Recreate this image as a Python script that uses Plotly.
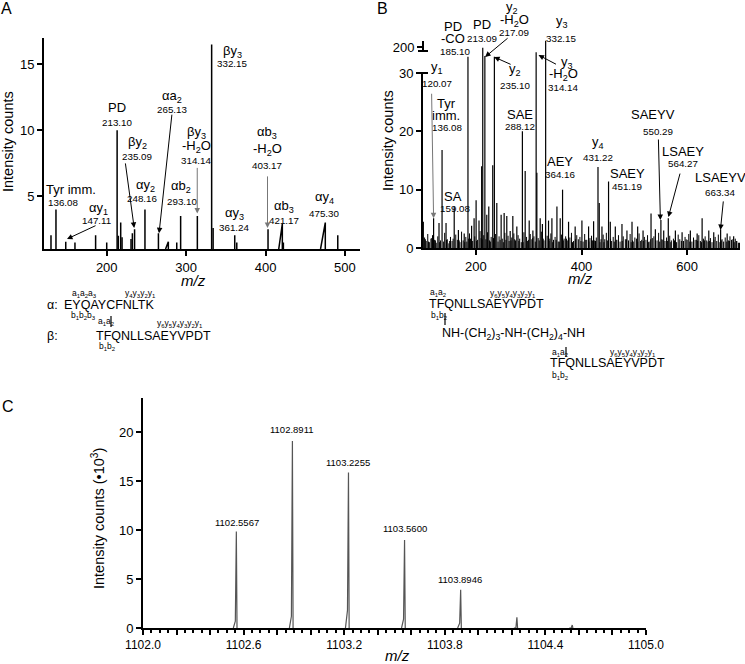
import plotly.graph_objects as go

W, H = 745, 664
FONT = "Liberation Sans, Arial, Helvetica, sans-serif"

# ---------------- Panel A data ----------------
A_mz = [129.8, 136.08, 148.4, 160, 186, 200, 213.10, 214.6, 217.6, 219.3, 230.6, 232.3, 235.09,
        248.16, 265.13, 277.6, 288.2, 293.10, 314.14, 332.15, 334, 361.24, 363.8, 403.17,
        421.17, 422.5, 475.30, 491]
A_int = [2.05, 4.0, 1.55, 1.5, 2.05, 1.5, 10.0, 2.0, 3.0, 1.9, 1.75, 2.2, 2.5,
         4.0, 2.2, 1.55, 1.5, 3.5, 3.5, 16.5, 2.6, 2.05, 1.5, 2.5,
         2.9, 1.5, 3.0, 2.05]
A_rise = [0, 0, 0, 0, 0, 0, 0, 0, 0, 0, 0, 0, 0,
          0, 0, 3.5, 0, 0, 0, 0, 0, 0, 0, 0,
          4.5, 0, 6, 0]

# ---------------- Panel B data ----------------
B_mz = [100.6, 120.07, 130.3, 136.08, 143.6, 159.08, 167, 178, 185.10, 192, 196.7, 200.5, 206,
        211, 213.09, 217.09, 220.7, 224.5, 232, 235.10, 239.7, 247.9, 253.6, 258.6, 265, 270,
        277.6, 288.12, 293.4, 301, 308, 314.14, 315.5, 321.8, 326, 332.15, 337.6, 344, 353.5,
        359.7, 364.16, 375.5, 388, 400.8, 413.4, 422.9, 431.22, 433.6, 438.7, 451.19, 454.5,
        464, 476.6, 486, 495.6, 506.3, 516.5, 531.6, 539.8, 550.29, 555.6, 564.27, 577.7,
        590.4, 606, 618.9, 628.3, 640.9, 650.3, 663.34, 675.7, 688]
B_int = [4.5, 5.1, 4.3, 16.8, 4.3, 7.1, 3.1, 2.5, 136.6, 3.8, 5.1, 8.2, 4.7,
         14.0, 195.5, 141.0, 5.7, 7.1, 14.2, 136.6, 7.7, 5.7, 6.0, 5.5, 2.9, 5.5,
         3.7, 20.0, 13.2, 4.7, 3.0, 165.0, 12.9, 5.1, 4.1, 241.0, 4.7, 5.1, 7.1,
         5.1, 10.0, 4.5, 3.7, 4.7, 3.7, 4.6, 13.9, 7.7, 3.7, 11.4, 4.5,
         3.7, 4.1, 3.0, 4.5, 3.7, 3.0, 5.9, 3.2, 4.8, 3.0, 5.1, 3.0,
         2.7, 3.0, 2.5, 5.1, 3.0, 2.7, 3.2, 2.5, 2.0]

B_noise_mz = [103, 106, 109, 112, 115, 118, 122, 125, 128, 133,
              139, 141, 146, 149, 152, 155, 162, 165, 170, 173,
              176, 181, 183, 188, 190, 194, 198, 203, 208, 210,
              215, 219, 222, 226, 229, 237, 242, 244, 250, 255,
              257, 261, 263, 268, 272, 275, 280, 283, 286, 291,
              296, 298, 303, 306, 310, 318, 324, 329, 335, 340,
              342, 347, 350, 356, 362, 367, 370, 373, 378, 381,
              385, 391, 394, 397, 403, 406, 410, 416, 419, 425,
              428, 435, 441, 444, 447, 457, 460, 467, 470, 473,
              479, 483, 489, 492, 498, 501, 504, 509, 512, 519,
              522, 525, 528, 534, 537, 543, 546, 552, 558, 561,
              567, 570, 574, 580, 583, 586, 593, 596, 600, 603,
              609, 612, 615, 622, 625, 631, 634, 637, 644, 647,
              653, 656, 659, 666, 669, 672, 678, 681, 684, 691,
              694, 697, 104.5, 110.5, 116.5, 123.5, 131, 144.5, 150.5, 157,
              168.5, 179, 186.5, 201.5, 212, 227.5, 233.5, 246, 252, 266.5,
              273.5, 281.5, 289.5, 299.5, 307.5, 312.5, 320, 327.5, 338.5, 345.5,
              352, 358, 365.5, 371.5, 383, 388.5, 399, 408, 414, 421,
              426.5, 437, 442.5, 449, 455, 462, 465.5, 477, 485, 494,
              496.5, 506.5, 514, 517, 526.5, 531, 540, 548, 554, 563,
              569, 576, 589, 598, 605, 618, 620, 627, 633, 639.5,
              642, 650.5, 662, 664.5, 675, 680, 686.5, 689, 693, 699]
B_noise_int = [1.8, 1.2, 2.4, 1.0, 1.6, 2.2, 1.4, 0.9, 2.0, 1.3,
               1.1, 2.6, 1.5, 0.8, 1.9, 1.2, 2.3, 1.4, 1.0, 2.8,
               1.3, 1.9, 1.1, 2.5, 1.6, 1.2, 2.0, 1.4, 2.9, 1.7,
               2.2, 1.5, 2.7, 1.3, 1.9, 2.4, 1.1, 2.0, 1.6, 2.6,
               1.4, 2.1, 1.2, 1.8, 2.5, 1.3, 2.2, 1.6, 1.0, 2.7,
               1.9, 1.2, 2.4, 1.5, 2.0, 1.7, 2.8, 1.3, 2.1, 1.6,
               2.5, 1.4, 1.9, 1.1, 2.3, 1.6, 2.0, 1.3, 1.8, 2.6,
               1.2, 2.2, 1.5, 1.9, 1.1, 2.4, 1.4, 1.7, 2.1, 1.3,
               1.8, 1.0, 2.3, 1.5, 2.6, 1.2, 1.9, 1.4, 2.2, 1.1,
               2.0, 1.5, 1.3, 2.4, 1.1, 1.8, 1.6, 2.5, 1.2, 1.9,
               1.4, 2.2, 1.1, 1.7, 2.0, 1.3, 2.6, 1.5, 1.2, 1.8,
               2.1, 1.3, 1.6, 1.0, 2.3, 1.5, 1.2, 1.9, 1.4, 2.4,
               1.1, 1.8, 1.4, 2.2, 1.2, 1.6, 2.0, 1.3, 1.7, 1.0,
               1.9, 1.2, 2.3, 1.5, 1.1, 1.8, 1.3, 2.0, 1.4, 1.6,
               1.2, 0.9, 1.5, 1.1, 1.7, 1.3, 1.0, 1.4, 1.2, 1.6,
               1.3, 1.0, 1.6, 1.2, 1.5, 1.1, 1.7, 1.4, 1.0, 1.3,
               1.5, 1.2, 1.0, 1.4, 1.7, 1.1, 1.3, 1.6, 1.2, 1.0,
               1.4, 1.1, 1.3, 1.6, 1.0, 1.5, 1.2, 1.4, 1.1, 1.3,
               1.2, 1.5, 1.0, 1.3, 1.6, 1.1, 1.4, 1.2, 1.5, 1.0,
               1.3, 1.1, 1.4, 1.2, 1.0, 1.5, 1.3, 1.1, 1.4, 1.2,
               1.0, 1.3, 1.2, 1.5, 1.1, 1.4, 1.2, 1.0, 1.3, 1.1,
               1.2, 1.4, 1.0, 1.3, 1.1, 1.2, 1.5, 1.0, 1.2, 0.9]

# ---------------- Panel C data ----------------
C_mz = [1102.5567, 1102.8911, 1103.2255, 1103.5600, 1103.8946, 1104.23, 1104.56]
C_int = [9.85, 19.1, 15.9, 9.0, 3.9, 1.1, 0.3]
C_shoulder = [0.7, 1.2, 1.8, 0.9, 0.5, 0.0, 0.0]
C_labels = ["1102.5567", "1102.8911", "1103.2255", "1103.5600", "1103.8946"]
C_tick_text = ["1102.0", " ", " ", "1102.6", " ", " ", "1103.2", " ", " ", "1103.8", " ", " ",
               "1104.4", " ", " ", "1105.0"]
C_tick_vals = [1102.0, 1102.2, 1102.4, 1102.6, 1102.8, 1103.0, 1103.2, 1103.4, 1103.6, 1103.8,
               1104.0, 1104.2, 1104.4, 1104.6, 1104.8, 1105.0]


def P(x, y):
    return x / W, 1 - y / H


def sticks(mz, inten, base=0.0):
    xs, ys = [], []
    for m, h in zip(mz, inten):
        xs += [m, m, None]
        ys += [base, h, None]
    return xs, ys


fig = go.Figure()

# Panel A spectrum
ax_, ay_ = [], []
for m, h, r in zip(A_mz, A_int, A_rise):
    ax_ += [m - r, m, m, None]
    ay_ += [1, h, 1, None]
fig.add_trace(go.Scatter(x=ax_, y=ay_, mode="lines", line=dict(color="black", width=1.5),
                         xaxis="x", yaxis="y", hoverinfo="skip", showlegend=False))

# Panel B spectrum (lower and upper part of broken axis)
nx, ny = sticks(B_noise_mz, B_noise_int)
bx, by = sticks(B_mz, B_int)
for xa, ya in (("x2", "y2"), ("x3", "y3")):
    fig.add_trace(go.Scatter(x=nx, y=ny, mode="lines", line=dict(color="black", width=1),
                             xaxis=xa, yaxis=ya, hoverinfo="skip", showlegend=False))
    fig.add_trace(go.Scatter(x=bx, y=by, mode="lines", line=dict(color="black", width=1.2),
                             xaxis=xa, yaxis=ya, hoverinfo="skip", showlegend=False))

# Panel C spectrum
cx, cy = [], []
for m, h, s in zip(C_mz, C_int, C_shoulder):
    cx += [m - 0.018, m - 0.006, m, m + 0.004, None]
    cy += [0, s, h, 0, None]
fig.add_trace(go.Scatter(x=cx, y=cy, mode="lines", line=dict(color="#555555", width=1.2),
                         xaxis="x4", yaxis="y4", hoverinfo="skip", showlegend=False))

ann = []


def txt(x, y, t, size=12.5, anchor="center", color="black", angle=0):
    px_, py_ = P(x, y)
    ann.append(dict(x=px_, y=py_, xref="paper", yref="paper", text=t, showarrow=False,
                    xanchor=anchor, yanchor="middle", textangle=angle,
                    font=dict(family=FONT, size=size, color=color)))


def arrow(xref, yref, x, y, dx, dy, color="black"):
    ann.append(dict(x=x, y=y, xref=xref, yref=yref, text="", showarrow=True, ax=dx, ay=dy,
                    arrowhead=2, arrowsize=1.1, arrowwidth=1, arrowcolor=color, standoff=0))


NS, VS = 13, 9.8  # name size, value size

# Panel letters
txt(7, 9, "A", 16)
txt(382, 9, "B", 16)
txt(8, 406, "C", 16)

# Panel A labels
for name, nx_, ny_, val, vx, vy in [
    ("Tyr imm.", 71, 189, "136.08", 63, 202),
    ("αy<sub>1</sub>", 98, 209, "147.11", 97, 221),
    ("PD", 117, 107, "213.10", 117, 122),
    ("βy<sub>2</sub>", 137, 142, "235.09", 137, 156),
    ("αy<sub>2</sub>", 145, 186, "248.16", 142, 199),
    ("αa<sub>2</sub>", 172, 96, "265.13", 172, 109),
    ("αb<sub>2</sub>", 181, 187, "293.10", 182, 201),
    ("βy<sub>3</sub>", 232, 52, "332.15", 232, 64),
    ("αy<sub>3</sub>", 234, 213, "361.24", 234, 227),
    ("αb<sub>3</sub>", 284, 206, "421.17", 284, 220),
    ("αy<sub>4</sub>", 324, 198, "475.30", 324, 213),
]:
    txt(nx_, ny_, name, NS)
    txt(vx, vy, val, VS)
txt(196, 132, "βy<sub>3</sub>", NS)
txt(196, 147, "-H<sub>2</sub>O", NS)
txt(196, 160, "314.14", VS)
txt(267, 132, "αb<sub>3</sub>", NS)
txt(267, 149, "-H<sub>2</sub>O", NS)
txt(267, 165, "403.17", VS)

arrow("x", "y", 150, 1.76, 30, -14)
arrow("x", "y", 234.6, 2.6, -9, -66)
arrow("x", "y", 265.9, 2.2, 13, -120)
arrow("x", "y", 314.0, 3.7, 0, -47, "#777777")
arrow("x", "y", 402.5, 2.6, 0, -53, "#777777")

# Panel B labels
for name, nx_, ny_, val, vx, vy in [
    ("y<sub>1</sub>", 437, 67, "120.07", 437, 83),
    ("SA", 453, 196, "159.08", 455, 208),
    ("PD", 482, 24, "213.09", 482, 38),
    ("y<sub>2</sub>", 515, 70, "235.10", 515, 85),
    ("SAE", 520, 114, "288.12", 520, 127),
    ("y<sub>3</sub>", 562, 22, "332.15", 561, 38),
    ("AEY", 560, 161, "364.16", 560, 175),
    ("y<sub>4</sub>", 598, 142, "431.22", 598, 158),
    ("SAEY", 627, 173, "451.19", 627, 187),
    ("SAEYV", 653, 115, "550.29", 658, 131),
    ("LSAEY", 683, 152, "564.27", 683, 164),
    ("LSAEYV", 720, 177, "663.34", 720, 192),
]:
    txt(nx_, ny_, name, NS)
    txt(vx, vy, val, VS)
txt(446, 103, "Tyr", NS)
txt(446, 116, "imm.", NS)
txt(448, 128, "136.08", VS)
txt(453, 27, "PD", NS)
txt(453, 39, "-CO", NS)
txt(455, 52, "185.10", VS)
txt(512, 7, "y<sub>2</sub>", NS)
txt(514, 20, "-H<sub>2</sub>O", NS)
txt(514, 33, "217.09", VS)
txt(567, 62, "y<sub>3</sub>", NS)
txt(563, 75, "-H<sub>2</sub>O", NS)
txt(563, 88, "314.14", VS)

arrow("x2", "y2", 120.07, 5.1, -2, -126, "#777777")
arrow("x3", "y3", 217.5, 134.6, 24, -20)
arrow("x3", "y3", 234.6, 134.6, 18, 8)
arrow("x3", "y3", 318.6, 147.7, 19, 10)
arrow("x2", "y2", 549.3, 4.8, -2, -82)
arrow("x2", "y2", 564.5, 5.3, 12, -45)
arrow("x2", "y2", 663.0, 3.1, 3, -30)

# Panel C labels
for lab, (lx, ly) in zip(C_labels, [(237, 522), (292, 429), (348, 462), (405, 528), (460, 579)]):
    txt(lx, ly, lab, 9.5)

# Axis titles
txt(8, 142, "Intensity counts", 14.5, angle=-90)
txt(388, 140, "Intensity counts", 14.5, angle=-90)
txt(98, 519, "Intensity counts (•10<sup>3</sup>)", 14.5, angle=-90)
txt(194, 280, "<i>m/z</i>", 15)
txt(580, 278, "<i>m/z</i>", 15)
txt(397, 655, "<i>m/z</i>", 15)

# Sequence annotations, panel A
SQ, SM = 12.5, 8.5
txt(45, 305, "α:", SQ, "left")
txt(62, 305, "EYQAYCFNLTK", SQ, "left")
txt(70, 294, "a<sub>1</sub>a<sub>2</sub>a<sub>3</sub>", SM, "left")
txt(123, 294, "y<sub>4</sub>y<sub>3</sub>y<sub>2</sub>y<sub>1</sub>", SM, "left")
txt(69, 315, "b<sub>1</sub>b<sub>2</sub>b<sub>3</sub>", SM, "left")
txt(96, 321, "a<sub>1</sub>a<sub>2</sub>", SM, "left")
txt(45, 336, "β:", SQ, "left")
txt(94, 336, "TFQNLLSAEYVPDT", SQ, "left")
txt(155, 323, "y<sub>6</sub>y<sub>5</sub>y<sub>4</sub>y<sub>3</sub>y<sub>2</sub>y<sub>1</sub>", SM, "left")
txt(97, 346, "b<sub>1</sub>b<sub>2</sub>", SM, "left")

# Sequence annotations, panel B
txt(428, 293, "a<sub>1</sub>a<sub>2</sub>", SM, "left")
txt(488, 294, "y<sub>6</sub>y<sub>5</sub>y<sub>4</sub>y<sub>3</sub>y<sub>2</sub>y<sub>1</sub>", SM, "left")
txt(427, 304, "TFQNLLSAEYVPDT", SQ, "left")
txt(429, 315, "b<sub>1</sub>b<sub>2</sub>", SM, "left")
txt(440, 334, "NH-(CH<sub>2</sub>)<sub>3</sub>-NH-(CH<sub>2</sub>)<sub>4</sub>-NH", SQ, "left")
txt(550, 352, "a<sub>1</sub>a<sub>2</sub>", SM, "left")
txt(608, 352, "y<sub>6</sub>y<sub>5</sub>y<sub>4</sub>y<sub>3</sub>y<sub>2</sub>y<sub>1</sub>", SM, "left")
txt(548, 363, "TFQNLLSAEYVPDT", SQ, "left")
txt(550, 375, "b<sub>1</sub>b<sub>2</sub>", SM, "left")

shapes = []


def seg(x0, y0, x1, y1, w=1.2):
    a0, b0 = P(x0, y0)
    a1, b1 = P(x1, y1)
    shapes.append(dict(type="line", xref="paper", yref="paper", x0=a0, y0=b0, x1=a1, y1=b1,
                       line=dict(color="black", width=w)))


seg(111, 316, 111, 327)
seg(445, 313, 445, 325)
seg(566, 347, 566, 357)
# broken axis marks for panel B
seg(423, 41, 423, 51, 2)
seg(418, 51, 428, 51, 2)
seg(418, 73, 428, 73, 2)

axis_common = dict(showline=True, linewidth=2, linecolor="black", ticks="outside", ticklen=5,
                   tickwidth=2, tickcolor="black", showgrid=False, zeroline=False,
                   automargin=False,
                   tickfont=dict(family=FONT, size=13, color="black"))

fig.update_layout(
    template="none",
    width=W, height=H, margin=dict(l=0, r=0, t=0, b=0, pad=0), autosize=False,
    paper_bgcolor="white", plot_bgcolor="white", showlegend=False,
    font=dict(family=FONT, color="black"),
    xaxis=dict(domain=[44 / W, 360 / W], range=[121, 519], anchor="y",
               tickvals=[200, 300, 400, 500], **axis_common),
    yaxis=dict(domain=[1 - 249 / H, 1 - 38 / H], range=[1, 17], anchor="x",
               tickvals=[5, 10, 15], **axis_common),
    xaxis2=dict(domain=[423 / W, 740 / W], range=[100, 700], anchor="y2",
                tickvals=[200, 400, 600], **axis_common),
    yaxis2=dict(domain=[1 - 248 / H, 1 - 73 / H], range=[0, 30], anchor="x2",
                tickvals=[0, 10, 20, 30], **axis_common),
    xaxis3=dict(domain=[423 / W, 740 / W], range=[100, 700], anchor="y3", visible=False,
                automargin=False),
    yaxis3=dict(domain=[1 - 73 / H, 1 - 40 / H], range=[30, 245.8], anchor="x3",
                tickvals=[200], showline=False, ticks="outside", ticklen=5, tickwidth=2,
                tickcolor="black", showgrid=False, zeroline=False, automargin=False,
                tickfont=dict(family=FONT, size=13, color="black")),
    xaxis4=dict(domain=[143 / W, 646 / W], range=[1102, 1105], anchor="y4",
                tickmode="array", tickvals=C_tick_vals, ticktext=C_tick_text,
                minor=dict(ticks="outside", tick0=1102, dtick=0.05, ticklen=3, tickwidth=1.5,
                           tickcolor="black"),
                **{**axis_common, "tickfont": dict(family=FONT, size=12, color="black")}),
    yaxis4=dict(domain=[1 - 628 / H, 1 - 398 / H], range=[0, 23.5], anchor="x4",
                tickvals=[0, 5, 10, 15, 20], **axis_common),
    annotations=ann, shapes=shapes,
)

fig.write_html("out.html", config={"displayModeBar": False},
               post_script="document.body.style.margin='0';document.body.style.overflow='hidden';")
